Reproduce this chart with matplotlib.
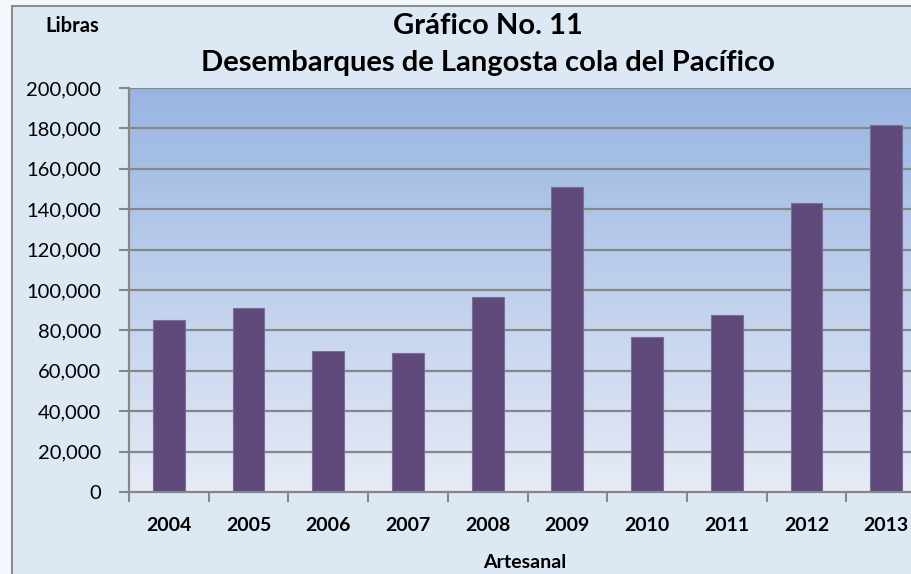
import numpy as np
import matplotlib.pyplot as plt
from matplotlib.colors import LinearSegmentedColormap
from matplotlib.ticker import FuncFormatter

# datos
anios = ['2004', '2005', '2006', '2007', '2008', '2009', '2010', '2011', '2012', '2013']
libras = [85000, 91000, 70000, 69000, 96500, 151000, 76500, 87500, 143000, 181500]
yticks = [0, 20000, 40000, 60000, 80000, 100000, 120000, 140000, 160000, 180000, 200000]

plt.rcParams['font.family'] = ['Lato', 'DejaVu Sans']

fig = plt.figure(figsize=(9.11, 5.74), dpi=100)
fig.patch.set_facecolor('#f2f8fc')

# fondo del grafico con borde
fondo = plt.Rectangle((12 / 911, -0.1), 1.2, (574 - 6) / 574 + 0.1,
                      transform=fig.transFigure, facecolor='#dce8f4',
                      edgecolor='#8c8c8c', lw=1.5, zorder=-5)
fig.patches.append(fondo)

ax = fig.add_axes([129 / 911, 82 / 574, 797 / 911, 404 / 574])
ax.set_zorder(2)
ax.set_facecolor('none')

x = np.arange(len(anios))
ax.set_xlim(-0.5, len(anios) - 0.5)
ax.set_ylim(0, 200000)

# degradado del area de trazado
cmap = LinearSegmentedColormap.from_list('grad', ['#e6ebf6', '#98b5e2'])
ax.imshow(np.linspace(0, 1, 256).reshape(-1, 1), cmap=cmap, aspect='auto',
          origin='lower', extent=(-0.5, len(anios) - 0.5, 0, 200000), zorder=0)

for yv in yticks[1:]:
    ax.axhline(yv, color='#878787', lw=1.6, zorder=1)

ax.bar(x, libras, width=0.4, color='#604a7b', edgecolor='#7d6c9a', lw=0.8, zorder=2)

ax.set_yticks(yticks)
ax.yaxis.set_major_formatter(FuncFormatter(lambda v, p: f'{int(v):,}'))
ax.set_xticks(np.arange(len(anios) + 1) - 0.5, minor=False)
ax.set_xticklabels([])
ax.set_xticks(x, minor=True)
ax.set_xticklabels(anios, minor=True, fontsize=14, fontweight='bold')
ax.tick_params(axis='x', which='minor', length=0, pad=18)
ax.tick_params(axis='x', which='major', length=7, color='#878787', width=1.5)
ax.tick_params(axis='y', length=7, color='#878787', width=1.5, labelsize=14.5, pad=13)

for s in ['top', 'right']:
    ax.spines[s].set_visible(False)
ax.spines['left'].set_color('#878787')
ax.spines['bottom'].set_color('#878787')
ax.spines['left'].set_linewidth(1.6)
ax.spines['bottom'].set_linewidth(1.6)

fig.text(488 / 911, 1 - 26 / 574, 'Gráfico No. 11', ha='center', va='center',
         fontsize=21, fontweight='bold')
fig.text(488 / 911, 1 - 63 / 574, 'Desembarques de Langosta cola del Pacífico',
         ha='center', va='center', fontsize=21, fontweight='bold')
fig.text(72 / 911, 1 - 26 / 574, 'Libras', ha='center', va='center',
         fontsize=14.5, fontweight='bold')
fig.text(525 / 911, 1 - 562 / 574, 'Artesanal', ha='center', va='center',
         fontsize=14, fontweight='bold')

fig.savefig('out.png', dpi=100)
